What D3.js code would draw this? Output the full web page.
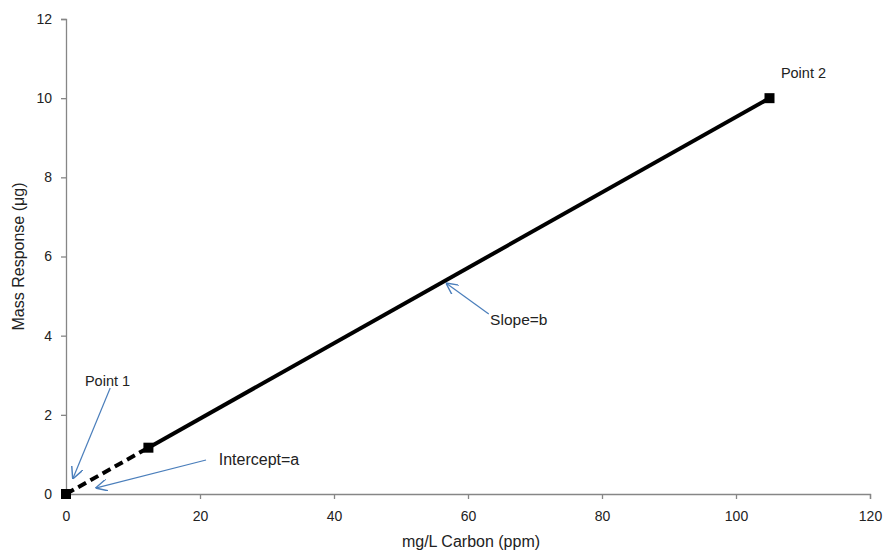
<!DOCTYPE html>
<html>
<head>
<meta charset="utf-8">
<script src="https://cdn.jsdelivr.net/npm/d3@7"></script>
<style>
  body { margin: 0; background: #fff; }
  text { font-family: "Liberation Sans", Arial, sans-serif; fill: #222; }
</style>
</head>
<body>
<svg class="main-graphic"></svg>
<script>
// data
var xTicks = [0, 20, 40, 60, 80, 100, 120];
var yTicks = [0, 2, 4, 6, 8, 10, 12];
var dashedPts = [[0, 0], [12.3, 1.17]];
var solidPts = [[12.3, 1.17], [105, 10.0]];
var markerPts = [[0, 0], [12.3, 1.17], [105, 10.0]];
var labels = [
  {text: "Point 1", x: 6.2, y: 2.85, anchor: "middle", size: 14.5},
  {text: "Intercept=a", x: 22.8, y: 0.88, anchor: "start", size: 16},
  {text: "Slope=b", x: 63.3, y: 4.4, anchor: "start", size: 15.5},
  {text: "Point 2", x: 106.7, y: 10.64, anchor: "start", size: 14.5}
];
var arrows = [
  {x1: 6.6, y1: 2.68, x2: 1.0, y2: 0.38},
  {x1: 20.9, y1: 0.86, x2: 4.4, y2: 0.15},
  {x1: 63.1, y1: 4.55, x2: 56.7, y2: 5.33}
];

var margin = {top: 19, right: 16, bottom: 58, left: 66},
    width = 886 - margin.left - margin.right,
    height = 552 - margin.top - margin.bottom;

var svg = d3.select(".main-graphic")
    .attr("width", 886)
    .attr("height", 552);

var defs = svg.append("defs");
defs.append("marker")
    .attr("id", "arrow")
    .attr("viewBox", "0 0 10 10")
    .attr("refX", 10)
    .attr("refY", 5)
    .attr("markerWidth", 12)
    .attr("markerHeight", 12)
    .attr("markerUnits", "userSpaceOnUse")
    .attr("orient", "auto")
  .append("path")
    .attr("d", "M0,0 L10,5 L0,10")
    .attr("fill", "none")
    .attr("stroke", "#4a7ebb")
    .attr("stroke-width", 1.2);

var g = svg.append("g")
    .attr("transform", "translate(" + margin.left + "," + margin.top + ")");

var x = d3.scaleLinear().domain([0, 120]).range([0, width]);
var y = d3.scaleLinear().domain([0, 12]).range([height, 0]);

var xAxis = g.append("g")
    .attr("transform", "translate(0," + height + ")")
    .call(d3.axisBottom(x).tickValues(xTicks).tickSizeOuter(0).tickSize(5).tickPadding(12));
var yAxis = g.append("g")
    .call(d3.axisLeft(y).tickValues(yTicks).tickSizeOuter(0).tickSize(5).tickPadding(9));

[xAxis, yAxis].forEach(function(a) {
  a.selectAll("path, line").attr("stroke", "#868686").attr("stroke-width", 1.3);
  a.selectAll("text").attr("font-size", 14).attr("fill", "#222")
    .attr("font-family", "Liberation Sans, Arial, sans-serif");
});

g.append("text")
    .attr("x", width / 2 + 3)
    .attr("y", height + 47)
    .attr("dy", "0.35em")
    .attr("text-anchor", "middle")
    .attr("font-size", 16)
    .text("mg/L Carbon (ppm)");

g.append("text")
    .attr("transform", "translate(" + (-48) + "," + (height / 2) + ") rotate(-90)")
    .attr("dy", "0.35em")
    .attr("text-anchor", "middle")
    .attr("font-size", 16)
    .text("Mass Response (μg)");

var line = d3.line()
    .x(function(d) { return x(d[0]); })
    .y(function(d) { return y(d[1]); });

g.append("path")
    .datum(dashedPts)
    .attr("d", line)
    .attr("fill", "none")
    .attr("stroke", "#000")
    .attr("stroke-width", 4)
    .attr("stroke-dasharray", "9,5");

g.append("path")
    .datum(solidPts)
    .attr("d", line)
    .attr("fill", "none")
    .attr("stroke", "#000")
    .attr("stroke-width", 4);

g.selectAll(".marker")
    .data(markerPts)
  .enter().append("rect")
    .attr("class", "marker")
    .attr("x", function(d) { return x(d[0]) - 5; })
    .attr("y", function(d) { return y(d[1]) - 5; })
    .attr("width", 10)
    .attr("height", 10)
    .attr("fill", "#000");

g.selectAll(".arrow")
    .data(arrows)
  .enter().append("line")
    .attr("class", "arrow")
    .attr("x1", function(d) { return x(d.x1); })
    .attr("y1", function(d) { return y(d.y1); })
    .attr("x2", function(d) { return x(d.x2); })
    .attr("y2", function(d) { return y(d.y2); })
    .attr("stroke", "#4a7ebb")
    .attr("stroke-width", 1.2)
    .attr("marker-end", "url(#arrow)");

g.selectAll(".label")
    .data(labels)
  .enter().append("text")
    .attr("class", "label")
    .attr("x", function(d) { return x(d.x); })
    .attr("y", function(d) { return y(d.y); })
    .attr("dy", "0.35em")
    .attr("text-anchor", function(d) { return d.anchor; })
    .attr("font-size", function(d) { return d.size; })
    .text(function(d) { return d.text; });
</script>
</body>
</html>
